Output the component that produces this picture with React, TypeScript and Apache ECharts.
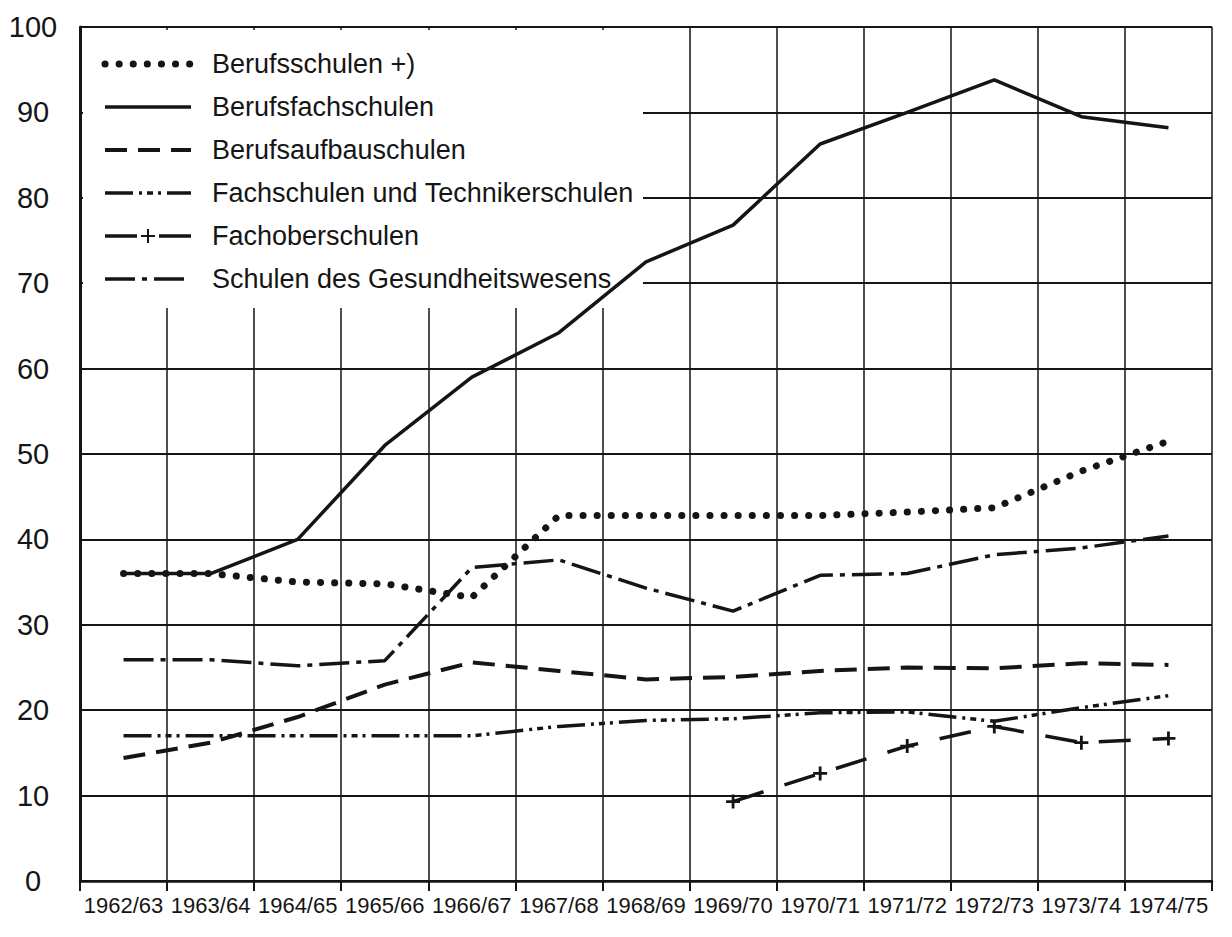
import React, { useEffect, useRef } from "react";
import * as echarts from "echarts";

const categories = [
  "1962/63", "1963/64", "1964/65", "1965/66", "1966/67", "1967/68", "1968/69",
  "1969/70", "1970/71", "1971/72", "1972/73", "1973/74", "1974/75",
];

const berufsschulen = [36, 36, 35, 34.8, 33.2, 42.8, 42.8, 42.8, 42.8, 43.2, 43.7, 48, 51.5];
const berufsfachschulen = [36, 36, 40, 51, 59, 64.2, 72.5, 76.8, 86.3, 90, 93.8, 89.5, 88.2];
const berufsaufbauschulen = [14.4, 16.2, 19.2, 23, 25.6, 24.6, 23.6, 23.9, 24.6, 25, 24.9, 25.5, 25.3];
const fachschulen = [17, 17, 17, 17, 17, 18.1, 18.8, 19, 19.7, 19.8, 18.7, 20.3, 21.7];
const fachoberschulen = [null, null, null, null, null, null, null, 9.3, 12.6, 15.8, 18.1, 16.2, 16.7];
const gesundheitswesen = [25.9, 25.9, 25.2, 25.8, 36.7, 37.6, 34.3, 31.6, 35.8, 36, 38.2, 39, 40.4];

const seriesNames = [
  "Berufsschulen +)",
  "Berufsfachschulen",
  "Berufsaufbauschulen",
  "Fachschulen und Technikerschulen",
  "Fachoberschulen",
  "Schulen des Gesundheitswesens",
];

const yMin = 0;
const yMax = 100;
const yStep = 10;

const INK = "#151515";
const TEXT_FONT = "'Liberation Sans', Arial, sans-serif";
const PLUS = "path://M4,0h2v4h4v2h-4v4h-2v-4h-4v-2h4z";

// line styles: width, dash pattern, cap
const styles: { width: number; dash: number[] | null; cap: "round" | "butt" }[] = [
  { width: 7, dash: [0.1, 14], cap: "round" },
  { width: 3.5, dash: null, cap: "butt" },
  { width: 4, dash: [22, 11], cap: "butt" },
  { width: 3.5, dash: [28, 6, 3, 5, 6, 5, 3, 6], cap: "butt" },
  { width: 3.5, dash: [32, 22], cap: "butt" },
  { width: 3.5, dash: [30, 7, 5, 7], cap: "butt" },
];

export default function App() {
  const ref = useRef<HTMLDivElement>(null);

  useEffect(() => {
    if (!ref.current) return;
    const chart = echarts.init(ref.current, undefined, { renderer: "svg" });

    const datasets = [
      berufsschulen,
      berufsfachschulen,
      berufsaufbauschulen,
      fachschulen,
      fachoberschulen,
      gesundheitswesen,
    ];

    const series = datasets.map((data, i) => {
      const s = styles[i];
      const isPlus = i === 4;
      return {
        name: seriesNames[i],
        type: "line",
        data,
        symbol: isPlus ? PLUS : "none",
        showSymbol: isPlus,
        symbolSize: 14,
        connectNulls: false,
        z: 3,
        itemStyle: { color: INK },
        lineStyle: {
          color: INK,
          width: s.width,
          type: s.dash ? s.dash : "solid",
          cap: s.cap,
        },
      };
    });

    // legend drawn as graphic elements (white box hides the grid behind it)
    const legendLeft = 105;
    const legendSampleW = 86;
    const legendTop = 64;
    const legendStep = 43;
    const legendEls: any[] = [
      {
        type: "rect",
        z: 1,
        silent: true,
        shape: { x: 83, y: 30, width: 560, height: 278 },
        style: { fill: "#ffffff" },
      },
    ];
    seriesNames.forEach((name, i) => {
      const s = styles[i];
      const y = legendTop + i * legendStep;
      legendEls.push({
        type: "line",
        z: 5,
        silent: true,
        shape: { x1: legendLeft, y1: y, x2: legendLeft + legendSampleW, y2: y },
        style: {
          stroke: INK,
          lineWidth: s.width,
          lineDash: s.dash || undefined,
          lineCap: s.cap,
        },
      });
      if (i === 4) {
        const cx = legendLeft + legendSampleW / 2;
        legendEls.push({
          type: "line",
          z: 5,
          silent: true,
          shape: { x1: cx - 7, y1: y, x2: cx + 7, y2: y },
          style: { stroke: INK, lineWidth: 2 },
        });
        legendEls.push({
          type: "line",
          z: 5,
          silent: true,
          shape: { x1: cx, y1: y - 7, x2: cx, y2: y + 7 },
          style: { stroke: INK, lineWidth: 2 },
        });
      }
      legendEls.push({
        type: "text",
        z: 5,
        silent: true,
        x: 212,
        y,
        style: {
          text: name,
          fill: INK,
          font: `27px ${TEXT_FONT}`,
          verticalAlign: "middle",
          align: "left",
        },
      });
    });

    chart.setOption({
      animation: false,
      backgroundColor: "#ffffff",
      grid: { left: 80, right: 20, top: 27, bottom: 56, containLabel: false },
      graphic: legendEls,
      xAxis: {
        type: "category",
        data: categories,
        boundaryGap: true,
        axisLine: { show: true, lineStyle: { color: INK, width: 2.5 } },
        axisTick: { show: true, length: 10, lineStyle: { color: INK, width: 2 } },
        splitLine: { show: true, lineStyle: { color: INK, width: 1.5 } },
        axisLabel: {
          interval: 0,
          color: INK,
          fontSize: 22,
          fontFamily: TEXT_FONT,
          margin: 13,
        },
      },
      yAxis: {
        type: "value",
        min: yMin,
        max: yMax,
        interval: yStep,
        axisLine: { show: true, lineStyle: { color: INK, width: 3 } },
        axisTick: { show: false },
        splitLine: { show: true, lineStyle: { color: INK, width: 2 } },
        axisLabel: {
          color: INK,
          fontSize: 29,
          fontFamily: TEXT_FONT,
          margin: 47,
          align: "center",
        },
      },
      series,
    });

    return () => chart.dispose();
  }, []);

  return (
    <div
      ref={ref}
      style={{ position: "absolute", left: 0, top: 0, width: 1232, height: 937, background: "#fff" }}
    />
  );
}
